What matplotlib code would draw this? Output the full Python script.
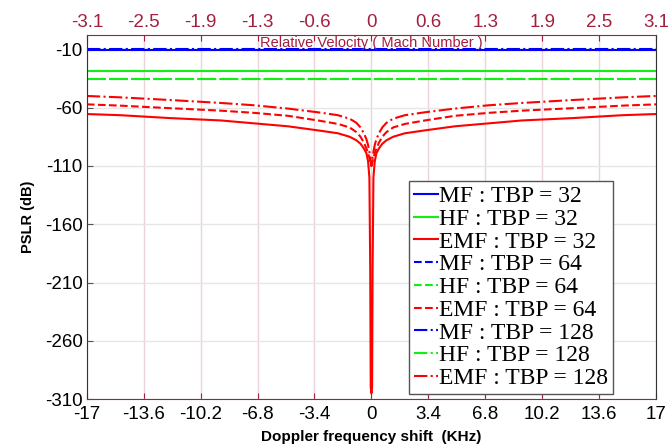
import numpy as np
import matplotlib.pyplot as plt

# PSLR vs Doppler shift for MF / HF / EMF at three time-bandwidth products
tbp = [32, 64, 128]
styles = ['-', '--', '-.']

f_edges = [-17, 17]
mf_pslr = [-11.0, -10.5, -10.0]   # flat
hf_pslr = [-28.4, -35.2, -35.7]   # flat

# EMF curves, read at positive shifts (curve is symmetric about 0)
f_half = [0.0, 0.04, 0.07, 0.12, 0.2, 0.3, 0.45, 0.65, 0.9, 1.3, 2.0, 3.2, 5.0, 7.0, 9.0, 12.0, 15.0, 17.0]
emf_32 = [-305, -300, -200, -120, -106, -99, -95, -91, -88, -85, -82, -79.5, -76, -73.5, -71, -69, -66.5, -65.5]
emf_64 = [-110, -108, -106, -103, -99, -95, -90, -85, -81, -77, -74, -71, -67, -64.5, -62.6, -60.5, -58.3, -57.2]
emf_128 = [-110, -106, -103, -98, -92, -87, -82, -77, -73, -69.5, -66.5, -64, -60.8, -58, -56, -53.5, -51.2, -50]

mach_labels = ['-3.1', '-2.5', '-1.9', '-1.3', '-0.6', '0', '0.6', '1.3', '1.9', '2.5', '3.1']
xticks = [-17, -13.6, -10.2, -6.8, -3.4, 0, 3.4, 6.8, 10.2, 13.6, 17]
yticks = [-310, -260, -210, -160, -110, -60, -10]

maroon = '#A2203C'

fig = plt.figure(figsize=(6.68, 4.47), dpi=100)
ax = fig.add_axes([0.130, 0.107, 0.852, 0.814])

def mirror(f, v):
    f = np.asarray(f)
    v = np.asarray(v)
    return np.concatenate([-f[::-1], f[1:]]), np.concatenate([v[::-1], v[1:]])

for i, t in enumerate(tbp):
    ls = styles[i]
    ax.plot(f_edges, [mf_pslr[i]] * 2, color='#0000FF', ls=ls, lw=1.5, label=f'MF : TBP = {t}')
    ax.plot(f_edges, [hf_pslr[i]] * 2, color='#11EE11', ls=ls, lw=1.5, label=f'HF : TBP = {t}')
    emf = [emf_32, emf_64, emf_128][i]
    fx, fy = mirror(f_half, emf)
    ax.plot(fx, fy, color='#FF0000', ls=ls, lw=1.5, label=f'EMF : TBP = {t}')

ax.set_xlim(-17, 17)
ax.set_ylim(-310, 2)
ax.set_xticks(xticks)
ax.set_xticklabels([f'{v:g}' for v in xticks], fontsize=13.5, family='Liberation Sans')
ax.set_yticks(yticks)
ax.set_yticklabels([str(v) for v in yticks], fontsize=13.5, family='Liberation Sans')
ax.tick_params(axis='x', direction='in', length=4, color=maroon, pad=5)
ax.tick_params(axis='y', direction='in', length=4, color='#555555', pad=3)
ax.yaxis.grid(True, color='#E6E6E6', lw=1)
ax.set_xlabel('Doppler frequency shift  (KHz)', fontsize=11, fontweight='bold',
              family='Liberation Sans', labelpad=5)
ax.set_ylabel('PSLR (dB)', fontsize=10.5, fontweight='bold', family='Liberation Sans', labelpad=7)
ax.spines['bottom'].set_color(maroon)
ax.spines['top'].set_color(maroon)
ax.spines['left'].set_color('#333333')
ax.spines['right'].set_color('#333333')

# top axis: relative velocity in Mach
ax2 = ax.twiny()
ax2.set_xlim(-17, 17)
ax2.set_xticks(xticks)
ax2.set_xticklabels(mach_labels, fontsize=13.5, color=maroon, family='Liberation Sans')
ax2.tick_params(axis='x', direction='in', length=4, color=maroon, pad=3)
ax2.xaxis.grid(True, color='#EAD3DA', lw=1)
ax2.set_axisbelow(True)
for s in ax2.spines.values():
    s.set_visible(False)
ax.set_zorder(ax2.get_zorder() + 1)
ax.patch.set_visible(False)
ax.text(0.5, 0.997, 'Relative Velocity ( Mach Number )', transform=ax.transAxes,
        ha='center', va='top', fontsize=10.5, color=maroon, family='Liberation Sans')

leg = ax.legend(loc='lower right', bbox_to_anchor=(0.924, 0.015), prop={'family': 'Liberation Serif', 'size': 17},
                handlelength=1.0, handletextpad=0.05, labelspacing=0.05, borderpad=0.2,
                borderaxespad=0, fancybox=False, framealpha=1, edgecolor='#555555')
leg.get_frame().set_linewidth(1)

fig.savefig('out.png', dpi=100)
